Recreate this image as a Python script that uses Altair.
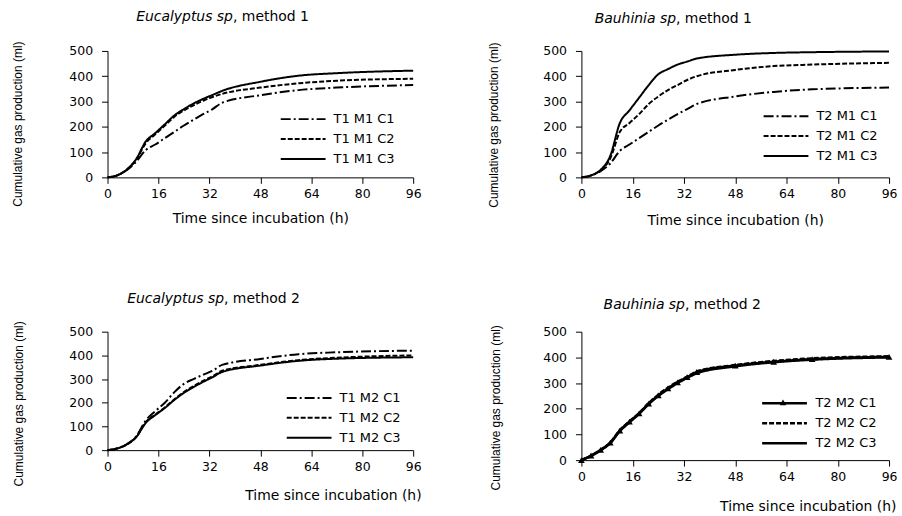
import altair as alt
import pandas as pd

# ---------------- data ----------------
hours = [0, 3, 6, 9, 12, 15, 18, 21, 24, 27, 30, 33, 36, 48, 60, 72, 96]

euc_m1_names = ["T1 M1 C1", "T1 M1 C2", "T1 M1 C3"]
euc_m1_c1 = [0, 7, 28, 62, 108, 130, 155, 180, 205, 228, 250, 270, 295, 325, 345, 355, 365]
euc_m1_c2 = [0, 8, 30, 70, 135, 170, 205, 240, 265, 285, 303, 318, 330, 355, 372, 382, 390]
euc_m1_c3 = [0, 8, 30, 72, 142, 175, 210, 245, 270, 292, 310, 326, 342, 378, 402, 412, 422]

bau_m1_names = ["T2 M1 C1", "T2 M1 C2", "T2 M1 C3"]
bau_m1_c1 = [0, 7, 25, 55, 105, 130, 155, 180, 205, 228, 250, 270, 290, 320, 338, 348, 355]
bau_m1_c2 = [0, 8, 28, 75, 180, 215, 250, 290, 320, 345, 365, 385, 400, 425, 440, 446, 453]
bau_m1_c3 = [0, 8, 30, 85, 215, 265, 315, 365, 408, 428, 446, 458, 470, 485, 492, 495, 498]

euc_m2_names = ["T1 M2 C1", "T1 M2 C2", "T1 M2 C3"]
euc_m2_c1 = [0, 7, 25, 58, 125, 165, 200, 245, 280, 300, 318, 335, 360, 385, 405, 413, 420]
euc_m2_c2 = [0, 7, 24, 55, 118, 150, 180, 215, 245, 270, 292, 312, 335, 360, 380, 390, 400]
euc_m2_c3 = [0, 7, 24, 55, 115, 148, 178, 212, 242, 266, 288, 308, 330, 357, 377, 386, 392]

bau_m2_names = ["T2 M2 C1", "T2 M2 C2", "T2 M2 C3"]
bau_m2_c1 = [0, 18, 40, 68, 115, 150, 182, 220, 252, 279, 303, 323, 343, 368, 383, 393, 402]
bau_m2_c2 = [0, 17, 40, 68, 117, 150, 183, 222, 255, 282, 305, 325, 345, 370, 386, 396, 404]
bau_m2_c3 = [0, 16, 38, 66, 113, 147, 180, 218, 250, 276, 300, 320, 338, 365, 381, 391, 400]

panel_titles = [
    ("Eucalyptus sp", ", method 1"),
    ("Bauhinia sp", ", method 1"),
    ("Eucalyptus sp", ", method 2"),
    ("Bauhinia sp", ", method 2"),
]

x_ticks = [0, 16, 32, 48, 64, 80, 96]
y_ticks = [0, 100, 200, 300, 400, 500]
x_title = "Time since incubation (h)"
y_title = "Cumulative gas production (ml)"

DASHDOT = [10, 3, 2, 3]
DASHED = [5, 2]
SOLID = [1, 0]

FONT = "DejaVu Sans"
NARROW = "Liberation Sans"


def long_df(names, series):
    rows = []
    for n, vals in zip(names, series):
        for t, v in zip(hours, vals):
            rows.append({"t": t, "v": v, "s": n, "m": n})
    return pd.DataFrame(rows)


def panel(names, series, dashes, widths, title_parts, title_pos, leg_pos,
          w, h, xt, yt, bottom_row=False, triangles=False):
    df = long_df(names, series)
    x_axis = dict(values=x_ticks, title=x_title, titleFont=FONT, titleFontSize=14,
                  titleFontWeight="normal", titleBaseline="middle", labelFlush=False,
                  labelPadding=4, titleY=xt[1], labelOverlap=False)
    if bottom_row:
        x_axis.update(titleX=xt[0], titleAlign="right")
    y_axis = dict(values=y_ticks, title=y_title, titleFont=NARROW, titleFontSize=12,
                  titleFontWeight="normal", titleBaseline="middle", labelFlush=False,
                  labelPadding=9, titleX=yt[0], titleY=yt[1], titleAngle=-90, labelOverlap=False)
    # leg_pos = (left edge of legend line, centre of first row), relative to plot
    leg = dict(title=None, orient="none", legendX=leg_pos[0] + 15, legendY=leg_pos[1] - 8,
               symbolType="M-3,0H3", symbolSize=225, symbolStrokeWidth=2,
               symbolStrokeColor="black", labelFont=FONT, labelFontSize=13,
               labelColor="black", labelOffset=22, labelLimit=0, rowPadding=4)
    X = alt.X("t:Q", scale=alt.Scale(domain=[0, 96], nice=False), axis=alt.Axis(**x_axis))
    Y = alt.Y("v:Q", scale=alt.Scale(domain=[0, 500], nice=False), axis=alt.Axis(**y_axis))
    lines = alt.Chart(df).mark_line(color="black", interpolate="monotone").encode(
        x=X, y=Y,
        detail="s:N",
        strokeDash=alt.StrokeDash("s:N", scale=alt.Scale(domain=names, range=dashes),
                                  legend=alt.Legend(**leg)),
        strokeWidth=alt.StrokeWidth("s:N", scale=alt.Scale(domain=names, range=widths), legend=None),
    )
    layers = [lines]
    if triangles:
        pts = alt.Chart(df[df["s"] == names[0]]).mark_point(
            filled=True, size=45, color="black", opacity=1
        ).encode(
            x=X, y=Y,
            shape=alt.Shape("m:N", scale=alt.Scale(domain=[names[0]], range=["triangle-up"]),
                            legend=alt.Legend(title=None, orient="none", legendX=leg_pos[0] + 19,
                                              legendY=leg_pos[1] - 3.5, symbolSize=45,
                                              symbolFillColor="black", symbolStrokeColor="black",
                                              symbolStrokeWidth=0, labelExpr="''", labelFontSize=1,
                                              rowPadding=0)),
        )
        layers.append(pts)
    t1 = alt.Chart(pd.DataFrame({"txt": [title_parts[0]]})).mark_text(
        font=FONT, fontSize=14, fontStyle="italic", align="right", baseline="middle", color="black"
    ).encode(text="txt:N", x=alt.value(title_pos[0]), y=alt.value(title_pos[1]))
    t2 = alt.Chart(pd.DataFrame({"txt": [title_parts[1]]})).mark_text(
        font=FONT, fontSize=14, align="left", baseline="middle", color="black"
    ).encode(text="txt:N", x=alt.value(title_pos[0]), y=alt.value(title_pos[1]))
    layers += [t1, t2]
    return alt.layer(*layers).properties(width=w, height=h)


p1 = panel(euc_m1_names, [euc_m1_c1, euc_m1_c2, euc_m1_c3], [DASHDOT, DASHED, SOLID], [2, 2, 2],
           panel_titles[0], (126, -34), (173, 68), 307, 127, (153, 41), (-90, 73))
p2 = panel(bau_m1_names, [bau_m1_c1, bau_m1_c2, bau_m1_c3], [DASHDOT, DASHED, SOLID], [2, 2, 2],
           panel_titles[1], (95, -32), (182, 65), 309, 127, (154, 43), (-88, 74))
p3 = panel(euc_m2_names, [euc_m2_c1, euc_m2_c2, euc_m2_c3], [DASHDOT, DASHED, SOLID], [2, 2, 2],
           panel_titles[2], (117, -33), (179, 66), 307, 119, (315, 46), (-89, 72), bottom_row=True)
p4 = panel(bau_m2_names, [bau_m2_c1, bau_m2_c2, bau_m2_c3], [SOLID, DASHED, SOLID], [2.5, 2.5, 1.5],
           panel_titles[3], (104, -27), (180, 71), 309, 129, (316, 47), (-86, 76), bottom_row=True,
           triangles=True)

chart = alt.concat(p1, p2, p3, p4, columns=2, spacing={"row": 155, "column": 169},
                   bounds="flush").resolve_scale(
    strokeDash="independent", strokeWidth="independent", shape="independent",
    x="independent", y="independent").resolve_legend(
    strokeDash="independent", strokeWidth="independent", shape="independent").properties(
    padding={"left": 11, "top": 9, "right": 5, "bottom": 5},
    background="white",
).configure_axis(
    domainColor="black", tickColor="black", labelColor="black", titleColor="black",
    grid=False, labelFont=FONT, labelFontSize=12.5, tickSize=6, domainWidth=1, tickWidth=1,
).configure_view(stroke=None)

chart.save("out.html", embed_options={"renderer": "svg", "actions": False})
